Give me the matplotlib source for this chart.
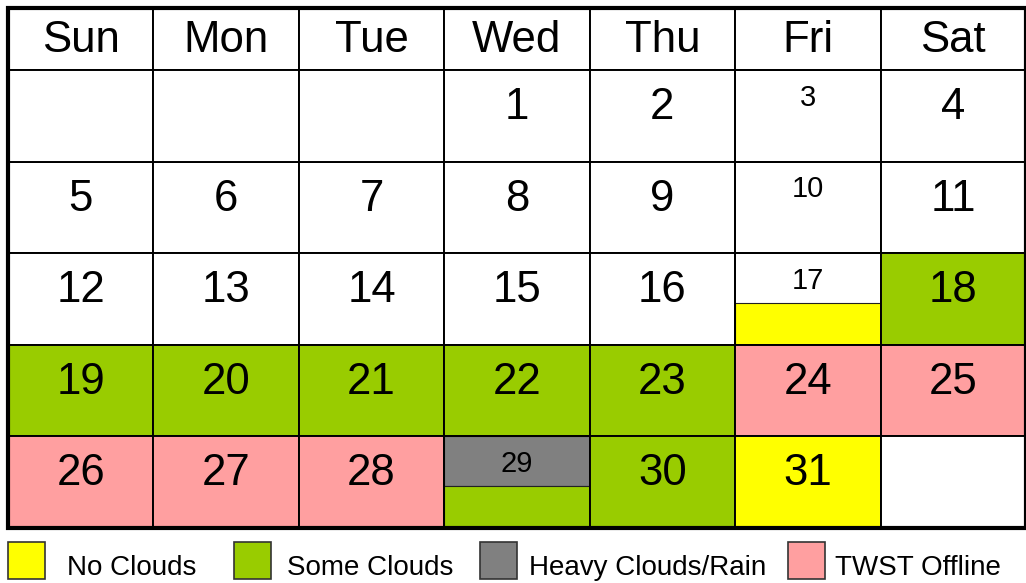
import matplotlib.pyplot as plt
from matplotlib.patches import Rectangle

plt.rcParams['font.family'] = ['Liberation Sans', 'DejaVu Sans']

weekdays = ['Sun', 'Mon', 'Tue', 'Wed', 'Thu', 'Fri', 'Sat']
first_weekday = 3  # day 1 falls on Wed
n_days = 31

legend_labels = ['No Clouds', 'Some Clouds', 'Heavy Clouds/Rain', 'TWST Offline']
colors = {'No Clouds': '#FFFF00', 'Some Clouds': '#99CC00',
          'Heavy Clouds/Rain': '#808080', 'TWST Offline': '#FF9FA0'}

# whole-day status
day_status = {18: 'Some Clouds', 19: 'Some Clouds', 20: 'Some Clouds', 21: 'Some Clouds',
              22: 'Some Clouds', 23: 'Some Clouds', 24: 'TWST Offline', 25: 'TWST Offline',
              26: 'TWST Offline', 27: 'TWST Offline', 28: 'TWST Offline',
              30: 'Some Clouds', 31: 'No Clouds'}
# split days: (top half, bottom half)
split_days = {3: (None, None), 10: (None, None), 17: (None, 'No Clouds'),
              29: ('Heavy Clouds/Rain', 'Some Clouds')}

header_h = 0.677
n_rows = 5
split_at = 0.54

fig = plt.figure(figsize=(10.26, 5.83), dpi=100)
ax = fig.add_axes([8 / 1026, 55 / 583, 1018 / 1026, 520 / 583])
ax.set_xlim(0, 7)
ax.set_ylim(header_h + n_rows, 0)
ax.axis('off')

for i, name in enumerate(weekdays):
    ax.add_patch(Rectangle((i, 0), 1, header_h, facecolor='white', edgecolor='black', lw=1.4))
    ax.text(i + 0.5, 0.48, name, ha='center', va='baseline', fontsize=31.5)

for day in range(1, n_days + 1):
    pos = first_weekday + day - 1
    col, row = pos % 7, pos // 7
    top = header_h + row
    if day in split_days:
        t, b = split_days[day]
        ax.add_patch(Rectangle((col, top), 1, 1, facecolor='white', edgecolor='black', lw=1.4))
        if t:
            ax.add_patch(Rectangle((col, top), 1, split_at, facecolor=colors[t],
                                   edgecolor='#222222', lw=0.8))
        if b:
            ax.add_patch(Rectangle((col, top + split_at), 1, 1 - split_at, facecolor=colors[b],
                                   edgecolor='#222222', lw=0.8))
        ax.add_patch(Rectangle((col, top), 1, 1, facecolor='none', edgecolor='black', lw=1.4))
        ax.text(col + 0.5, top + 0.39, str(day), ha='center', va='baseline', fontsize=21)
    else:
        fc = colors[day_status[day]] if day in day_status else 'white'
        ax.add_patch(Rectangle((col, top), 1, 1, facecolor=fc, edgecolor='black', lw=1.4))
        ax.text(col + 0.5, top + 0.535, str(day), ha='center', va='baseline', fontsize=31.5)

# empty leading / trailing cells
for pos in list(range(first_weekday)) + list(range(first_weekday + n_days, 7 * n_rows)):
    col, row = pos % 7, pos // 7
    ax.add_patch(Rectangle((col, header_h + row), 1, 1, facecolor='white',
                           edgecolor='black', lw=1.4))

ax.add_patch(Rectangle((0, 0), 7, header_h + n_rows, facecolor='none', edgecolor='black',
                       lw=3, clip_on=False))

# legend strip
lax = fig.add_axes([0, 0, 1, 55 / 583])
lax.set_xlim(0, 1026)
lax.set_ylim(0, 55)
lax.axis('off')
box_x = [8, 234, 480, 788]
text_x = [67, 287, 529, 835]
for label, bx, tx in zip(legend_labels, box_x, text_x):
    lax.add_patch(Rectangle((bx, 4), 37, 37, facecolor=colors[label], edgecolor='#333333', lw=1.2))
    lax.text(tx, 8, label, ha='left', va='baseline', fontsize=20)

fig.savefig('out.png', dpi=100)
